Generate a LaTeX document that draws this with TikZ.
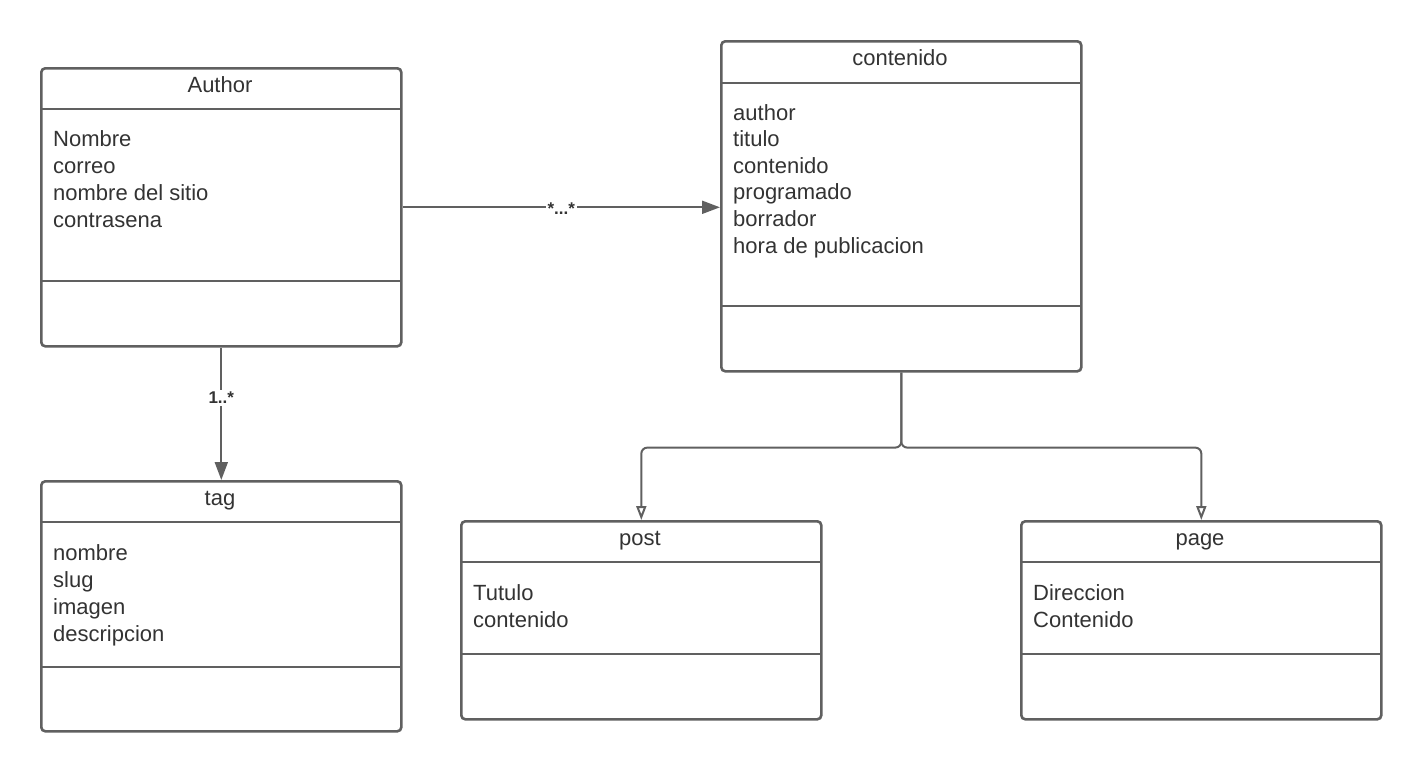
\documentclass[tikz,border=0pt]{standalone}
\usepackage{fontspec}
\setmainfont{Liberation Sans}
\usetikzlibrary{arrows.meta}
\definecolor{linec}{RGB}{96,96,96}
\definecolor{textc}{RGB}{51,51,51}
\begin{document}
\begin{tikzpicture}[x=1pt,y=-1pt,
  umlbox/.style={draw=linec, line width=2.6pt, rounded corners=4pt, fill=white,
    inner sep=0pt, anchor=north west, minimum width=360pt},
  divider/.style={draw=linec, line width=2.6pt},
  title/.style={anchor=base, inner sep=0pt, text=textc,
    font=\fontsize{22}{27}\selectfont},
  attr/.style={anchor=base west, inner sep=0pt, text=textc,
    font=\fontsize{22}{27}\selectfont},
  assoc/.style={draw=linec, line width=2pt, -{Triangle[length=18pt,width=13pt]}},
  inherit/.style={draw=linec, line width=2pt, rounded corners=6pt,
    -{Triangle[open,length=14pt,width=10pt,line width=2pt]}},
  mult/.style={fill=white, inner sep=2pt, text=textc,
    font=\fontsize{17}{19}\selectfont\bfseries},
]
\useasboundingbox (0,0) rectangle (1420,771);

% ---- class boxes ----
\node[umlbox, minimum height=278pt] (author) at (40,67) {};
\draw[divider] (40,109) -- (400,109);
\draw[divider] (40,281) -- (400,281);
\node[title] (author-t) at (220,92) {Author};
\foreach \t [count=\i] in {Nombre,correo,nombre del sitio,contrasena}
  \node[attr] (author-\i) at (53,{146.7+27*(\i-1)}) {\t};

\node[umlbox, minimum height=250pt] (tag) at (40,480) {};
\draw[divider] (40,522) -- (400,522);
\draw[divider] (40,667) -- (400,667);
\node[title] (tag-t) at (220,505) {tag};
\foreach \t [count=\i] in {nombre,slug,imagen,descripcion}
  \node[attr] (tag-\i) at (53,{560+27*(\i-1)}) {\t};

\node[umlbox, minimum height=330pt] (contenido) at (720,40) {};
\draw[divider] (720,83) -- (1080,83);
\draw[divider] (720,306) -- (1080,306);
\node[title] (contenido-t) at (900,65) {contenido};
\foreach \t [count=\i] in {author,titulo,contenido,programado,borrador,hora de publicacion}
  \node[attr] (contenido-\i) at (733,{120+26.6*(\i-1)}) {\t};

\node[umlbox, minimum height=198pt] (post) at (460,520) {};
\draw[divider] (460,562) -- (820,562);
\draw[divider] (460,654) -- (820,654);
\node[title] (post-t) at (640,545) {post};
\foreach \t [count=\i] in {Tutulo,contenido}
  \node[attr] (post-\i) at (473,{600+27*(\i-1)}) {\t};

\node[umlbox, minimum height=198pt] (page) at (1020,520) {};
\draw[divider] (1020,562) -- (1380,562);
\draw[divider] (1020,654) -- (1380,654);
\node[title] (page-t) at (1200,545) {page};
\foreach \t [count=\i] in {Direccion,Contenido}
  \node[attr] (page-\i) at (1033,{600+27*(\i-1)}) {\t};

% ---- associations ----
\draw[assoc] (author.east) -- (author.east -| contenido.west)
  node[mult, pos=0.5, yshift=-1pt] (m1) {*...*};
\draw[assoc] (author.south) -- (tag.north)
  node[mult, pos=0.38] (m2) {1..*};

% ---- generalisation ----
\draw[inherit] (contenido.south) -- ++(0,75) -| (post.north);
\draw[inherit] (contenido.south) -- ++(0,75) -| (page.north);
\end{tikzpicture}
\end{document}
